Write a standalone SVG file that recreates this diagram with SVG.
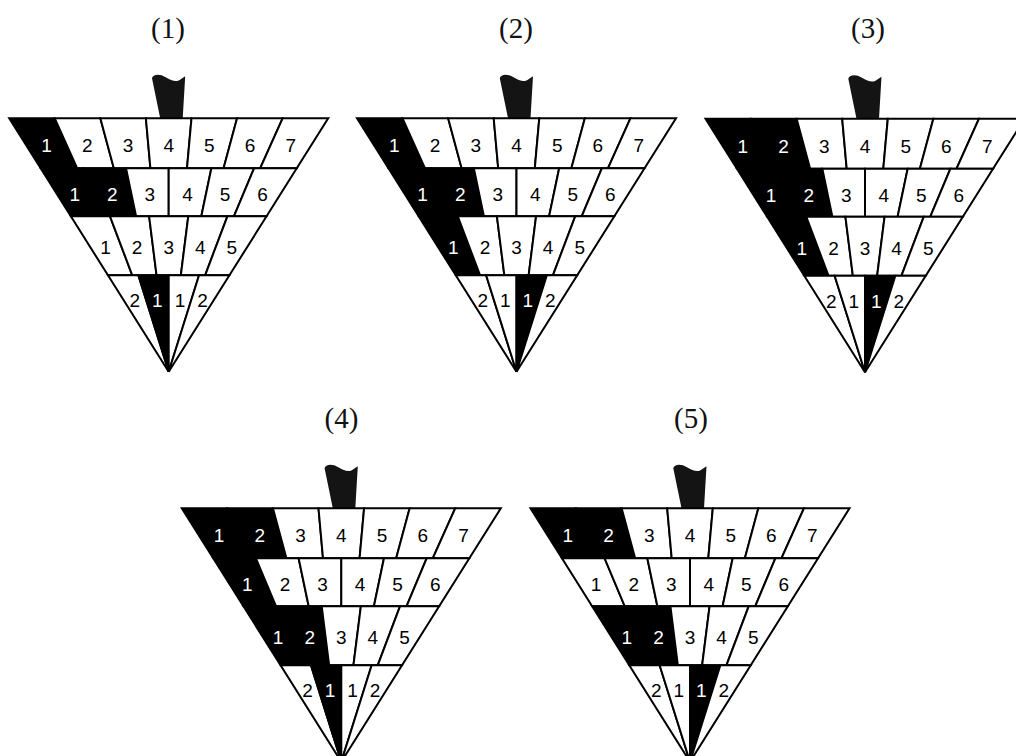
<svg xmlns="http://www.w3.org/2000/svg" xmlns:xlink="http://www.w3.org/1999/xlink" width="1016" height="756" viewBox="0 0 1016 756">
<style>
.cells{stroke:#000;stroke-width:2;stroke-linejoin:miter}
.w{fill:#fff}
.b{fill:#000}
.num{font-family:"Liberation Sans",Arial,sans-serif;font-size:19px;text-anchor:middle;fill:#000}
.num .tb{fill:#fff}
.cap{font-family:"Liberation Serif","Times New Roman",serif;font-size:29px;text-anchor:middle;fill:#111}
.ptr{fill:#141414}
</style>
<defs>
<polygon id="a1" points="-159.5,0 -113.93,0 -91.46,50 -128.04,50"/>
<polygon id="a2" points="-113.93,0 -68.36,0 -54.87,50 -91.46,50"/>
<polygon id="a3" points="-68.36,0 -22.79,0 -18.29,50 -54.87,50"/>
<polygon id="a4" points="-22.79,0 22.79,0 18.29,50 -18.29,50"/>
<polygon id="a5" points="22.79,0 68.36,0 54.87,50 18.29,50"/>
<polygon id="a6" points="68.36,0 113.93,0 91.46,50 54.87,50"/>
<polygon id="a7" points="113.93,0 159.5,0 128.04,50 91.46,50"/>
<polygon id="b1" points="-128.04,50 -85.36,50 -65.23,98 -97.84,98"/>
<polygon id="b2" points="-85.36,50 -42.68,50 -32.61,98 -65.23,98"/>
<polygon id="b3" points="-42.68,50 0,50 0,98 -32.61,98"/>
<polygon id="b4" points="0,50 42.68,50 32.61,98 0,98"/>
<polygon id="b5" points="42.68,50 85.36,50 65.23,98 32.61,98"/>
<polygon id="b6" points="85.36,50 128.04,50 97.84,98 65.23,98"/>
<polygon id="c1" points="-97.84,98 -58.70,98 -36.43,157 -60.72,157"/>
<polygon id="c2" points="-58.70,98 -19.57,98 -12.14,157 -36.43,157"/>
<polygon id="c3" points="-19.57,98 19.57,98 12.14,157 -12.14,157"/>
<polygon id="c4" points="19.57,98 58.70,98 36.43,157 12.14,157"/>
<polygon id="c5" points="58.70,98 97.84,98 60.72,157 36.43,157"/>
<polygon id="d1" points="-60.72,157 -30.36,157 0,253.5"/>
<polygon id="d2" points="-30.36,157 0,157 0,253.5"/>
<polygon id="d3" points="0,157 30.36,157 0,253.5"/>
<polygon id="d4" points="30.36,157 60.72,157 0,253.5"/>
<path id="pointer" d="M -16.7,-40 C -16,-44 -9,-45 -3,-41 C 3,-37 9,-36 12,-39 L 16.5,-42 L 14,0 L -8.5,0 Z"/>
</defs>

<g id="captions" class="cap">
<text x="168" y="38">(1)</text>
<text x="516" y="38">(2)</text>
<text x="868" y="38">(3)</text>
<text x="341.5" y="428">(4)</text>
<text x="691" y="428">(5)</text>
</g>

<g id="fig1" transform="translate(168.7,118.3)">
<use href="#pointer" class="ptr"/>
<g class="cells">
<use href="#a1" class="b"/><use href="#a2" class="w"/><use href="#a3" class="w"/><use href="#a4" class="w"/><use href="#a5" class="w"/><use href="#a6" class="w"/><use href="#a7" class="w"/>
<use href="#b1" class="b"/><use href="#b2" class="b"/><use href="#b3" class="w"/><use href="#b4" class="w"/><use href="#b5" class="w"/><use href="#b6" class="w"/>
<use href="#c1" class="w"/><use href="#c2" class="w"/><use href="#c3" class="w"/><use href="#c4" class="w"/><use href="#c5" class="w"/>
<use href="#d1" class="w"/><use href="#d2" class="b"/><use href="#d3" class="w"/><use href="#d4" class="w"/>
</g>
<g class="num">
<text x="-122.2" y="34" class="tb">1</text><text x="-81.4" y="34">2</text><text x="-40.7" y="34">3</text><text x="0" y="34">4</text><text x="40.7" y="34">5</text><text x="81.4" y="34">6</text><text x="122.2" y="34">7</text>
<text x="-93.9" y="83" class="tb">1</text><text x="-56.3" y="83" class="tb">2</text><text x="-18.8" y="83">3</text><text x="18.8" y="83">4</text><text x="56.3" y="83">5</text><text x="93.9" y="83">6</text>
<text x="-63.2" y="136">1</text><text x="-31.6" y="136">2</text><text x="0" y="136">3</text><text x="31.6" y="136">4</text><text x="63.2" y="136">5</text>
<text x="-33.8" y="189">2</text><text x="-11.3" y="189" class="tb">1</text><text x="11.3" y="189">1</text><text x="33.8" y="189">2</text>
</g>
</g>

<g id="fig2" transform="translate(516.5,118.3)">
<use href="#pointer" class="ptr"/>
<g class="cells">
<use href="#a1" class="b"/><use href="#a2" class="w"/><use href="#a3" class="w"/><use href="#a4" class="w"/><use href="#a5" class="w"/><use href="#a6" class="w"/><use href="#a7" class="w"/>
<use href="#b1" class="b"/><use href="#b2" class="b"/><use href="#b3" class="w"/><use href="#b4" class="w"/><use href="#b5" class="w"/><use href="#b6" class="w"/>
<use href="#c1" class="b"/><use href="#c2" class="w"/><use href="#c3" class="w"/><use href="#c4" class="w"/><use href="#c5" class="w"/>
<use href="#d1" class="w"/><use href="#d2" class="w"/><use href="#d3" class="b"/><use href="#d4" class="w"/>
</g>
<g class="num">
<text x="-122.2" y="34" class="tb">1</text><text x="-81.4" y="34">2</text><text x="-40.7" y="34">3</text><text x="0" y="34">4</text><text x="40.7" y="34">5</text><text x="81.4" y="34">6</text><text x="122.2" y="34">7</text>
<text x="-93.9" y="83" class="tb">1</text><text x="-56.3" y="83" class="tb">2</text><text x="-18.8" y="83">3</text><text x="18.8" y="83">4</text><text x="56.3" y="83">5</text><text x="93.9" y="83">6</text>
<text x="-63.2" y="136" class="tb">1</text><text x="-31.6" y="136">2</text><text x="0" y="136">3</text><text x="31.6" y="136">4</text><text x="63.2" y="136">5</text>
<text x="-33.8" y="189">2</text><text x="-11.3" y="189">1</text><text x="11.3" y="189" class="tb">1</text><text x="33.8" y="189">2</text>
</g>
</g>

<g id="fig3" transform="translate(865,118.8)">
<use href="#pointer" class="ptr"/>
<g class="cells">
<use href="#a1" class="b"/><use href="#a2" class="b"/><use href="#a3" class="w"/><use href="#a4" class="w"/><use href="#a5" class="w"/><use href="#a6" class="w"/><use href="#a7" class="w"/>
<use href="#b1" class="b"/><use href="#b2" class="b"/><use href="#b3" class="w"/><use href="#b4" class="w"/><use href="#b5" class="w"/><use href="#b6" class="w"/>
<use href="#c1" class="b"/><use href="#c2" class="w"/><use href="#c3" class="w"/><use href="#c4" class="w"/><use href="#c5" class="w"/>
<use href="#d1" class="w"/><use href="#d2" class="w"/><use href="#d3" class="b"/><use href="#d4" class="w"/>
</g>
<g class="num">
<text x="-122.2" y="34" class="tb">1</text><text x="-81.4" y="34" class="tb">2</text><text x="-40.7" y="34">3</text><text x="0" y="34">4</text><text x="40.7" y="34">5</text><text x="81.4" y="34">6</text><text x="122.2" y="34">7</text>
<text x="-93.9" y="83" class="tb">1</text><text x="-56.3" y="83" class="tb">2</text><text x="-18.8" y="83">3</text><text x="18.8" y="83">4</text><text x="56.3" y="83">5</text><text x="93.9" y="83">6</text>
<text x="-63.2" y="136" class="tb">1</text><text x="-31.6" y="136">2</text><text x="0" y="136">3</text><text x="31.6" y="136">4</text><text x="63.2" y="136">5</text>
<text x="-33.8" y="189">2</text><text x="-11.3" y="189">1</text><text x="11.3" y="189" class="tb">1</text><text x="33.8" y="189">2</text>
</g>
</g>

<g id="fig4" transform="translate(341.3,508.3)">
<use href="#pointer" class="ptr"/>
<g class="cells">
<use href="#a1" class="b"/><use href="#a2" class="b"/><use href="#a3" class="w"/><use href="#a4" class="w"/><use href="#a5" class="w"/><use href="#a6" class="w"/><use href="#a7" class="w"/>
<use href="#b1" class="b"/><use href="#b2" class="w"/><use href="#b3" class="w"/><use href="#b4" class="w"/><use href="#b5" class="w"/><use href="#b6" class="w"/>
<use href="#c1" class="b"/><use href="#c2" class="b"/><use href="#c3" class="w"/><use href="#c4" class="w"/><use href="#c5" class="w"/>
<use href="#d1" class="w"/><use href="#d2" class="b"/><use href="#d3" class="w"/><use href="#d4" class="w"/>
</g>
<g class="num">
<text x="-122.2" y="34" class="tb">1</text><text x="-81.4" y="34" class="tb">2</text><text x="-40.7" y="34">3</text><text x="0" y="34">4</text><text x="40.7" y="34">5</text><text x="81.4" y="34">6</text><text x="122.2" y="34">7</text>
<text x="-93.9" y="83" class="tb">1</text><text x="-56.3" y="83">2</text><text x="-18.8" y="83">3</text><text x="18.8" y="83">4</text><text x="56.3" y="83">5</text><text x="93.9" y="83">6</text>
<text x="-63.2" y="136" class="tb">1</text><text x="-31.6" y="136" class="tb">2</text><text x="0" y="136">3</text><text x="31.6" y="136">4</text><text x="63.2" y="136">5</text>
<text x="-33.8" y="189">2</text><text x="-11.3" y="189" class="tb">1</text><text x="11.3" y="189">1</text><text x="33.8" y="189">2</text>
</g>
</g>

<g id="fig5" transform="translate(690,508.3)">
<use href="#pointer" class="ptr"/>
<g class="cells">
<use href="#a1" class="b"/><use href="#a2" class="b"/><use href="#a3" class="w"/><use href="#a4" class="w"/><use href="#a5" class="w"/><use href="#a6" class="w"/><use href="#a7" class="w"/>
<use href="#b1" class="w"/><use href="#b2" class="w"/><use href="#b3" class="w"/><use href="#b4" class="w"/><use href="#b5" class="w"/><use href="#b6" class="w"/>
<use href="#c1" class="b"/><use href="#c2" class="b"/><use href="#c3" class="w"/><use href="#c4" class="w"/><use href="#c5" class="w"/>
<use href="#d1" class="w"/><use href="#d2" class="w"/><use href="#d3" class="b"/><use href="#d4" class="w"/>
</g>
<g class="num">
<text x="-122.2" y="34" class="tb">1</text><text x="-81.4" y="34" class="tb">2</text><text x="-40.7" y="34">3</text><text x="0" y="34">4</text><text x="40.7" y="34">5</text><text x="81.4" y="34">6</text><text x="122.2" y="34">7</text>
<text x="-93.9" y="83">1</text><text x="-56.3" y="83">2</text><text x="-18.8" y="83">3</text><text x="18.8" y="83">4</text><text x="56.3" y="83">5</text><text x="93.9" y="83">6</text>
<text x="-63.2" y="136" class="tb">1</text><text x="-31.6" y="136" class="tb">2</text><text x="0" y="136">3</text><text x="31.6" y="136">4</text><text x="63.2" y="136">5</text>
<text x="-33.8" y="189">2</text><text x="-11.3" y="189">1</text><text x="11.3" y="189" class="tb">1</text><text x="33.8" y="189">2</text>
</g>
</g>
</svg>
